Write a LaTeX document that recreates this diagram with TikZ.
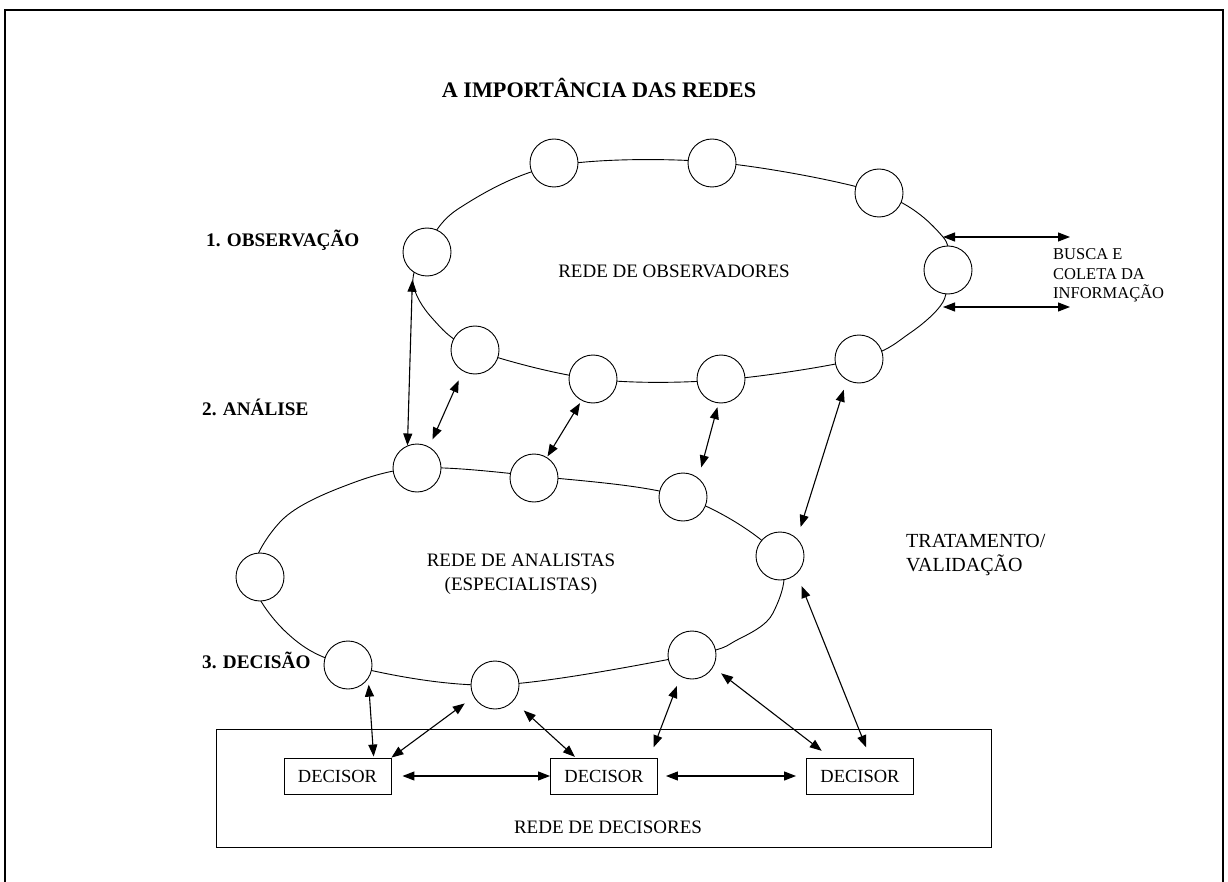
\documentclass[tikz,border=0pt]{standalone}
\usepackage{fontspec}
\setmainfont{Liberation Serif}
\usetikzlibrary{arrows.meta}
\begin{document}
\begin{tikzpicture}[x=1pt,y=-1pt,
  ring/.style={line width=0.9pt},
  nd/.style={circle,draw,fill=white,line width=0.9pt,minimum size=48pt,inner sep=0pt},
  dec/.style={draw,line width=0.9pt,minimum width=107pt,minimum height=36pt,inner sep=0pt,font=\fontsize{18.5}{22}\selectfont},
  lbl/.style={font=\fontsize{19}{24}\selectfont,inner sep=0pt,anchor=base},
  lblw/.style={font=\fontsize{20}{24}\selectfont,inner sep=0pt,anchor=base west},
  small/.style={font=\fontsize{16.5}{19}\selectfont,inner sep=0pt,anchor=base west},
  stage/.style={font=\fontsize{19.2}{22}\selectfont\bfseries,inner sep=0pt,anchor=base west},
  arr/.style={line width=1.1pt,{Triangle[length=12pt,width=9pt]}-{Triangle[length=12pt,width=9pt]}},
]
\useasboundingbox (0,0) rectangle (1228,882);
% outer frame
\draw[line width=1.5pt] (5,882) -- (5,10) -- (1223,10) -- (1223,882);

% title
\node[font=\fontsize{22.2}{26}\selectfont\bfseries,inner sep=0pt,anchor=base] (title) at (599,98) {A IMPORTÂNCIA DAS REDES};

% rings
\draw[ring] plot[smooth cycle,tension=0.55] coordinates {
  (425,250) (458,209) (554,166) (712,162) (879,193) (943,237) (946,270) (943,302)
  (910,333) (859,359) (721,380) (593,379) (475,350) (432,318) (413,283)};
\draw[ring] plot[smooth cycle,tension=0.55] coordinates {
  (417,468) (534,476) (683,497) (778,556) (773,613) (737,640) (692,655)
  (495,685) (348,665) (287,633) (252,577) (282,520) (342,487)};

% observer circles
\node[nd] (o1) at (427,252) {};
\node[nd] (o2) at (554,163) {};
\node[nd] (o3) at (712,163) {};
\node[nd] (o4) at (879,193) {};
\node[nd] (o5) at (948,270) {};
\node[nd] (o6) at (859,359) {};
\node[nd] (o7) at (721,379) {};
\node[nd] (o8) at (593,379) {};
\node[nd] (o9) at (475,350) {};

% analyst circles
\node[nd] (a1) at (417,468) {};
\node[nd] (a2) at (534,478) {};
\node[nd] (a3) at (683,497) {};
\node[nd] (a4) at (780,556) {};
\node[nd] (a5) at (692,655) {};
\node[nd] (a6) at (495,685) {};
\node[nd] (a7) at (348,665) {};
\node[nd] (a8) at (260,577) {};

% decision network
\node[draw,line width=0.9pt,minimum width=775pt,minimum height=118pt,inner sep=0pt] (net) at (603.5,788) {};
\node[dec] (D1) at (337.5,776) {DECISOR};
\node[dec] (D2) at (604,776) {DECISOR};
\node[dec] (D3) at (860,776) {DECISOR};
\node[lbl] (netlbl) at (608,833) {REDE DE DECISORES};

% labels
\node[lbl] (obs) at (674,278) {REDE DE OBSERVADORES};
\node[lbl] (ana1) at (521,566) {REDE DE ANALISTAS};
\node[lbl] (ana2) at (521,590) {(ESPECIALISTAS)};
\node[stage] (s1) at (206,247) {1. OBSERVAÇÃO};
\node[stage] (s2) at (202,415) {2. ANÁLISE};
\node[stage] (s3) at (202,668) {3. DECISÃO};
\node[small] (bu1) at (1053,260) {BUSCA E};
\node[small] (bu2) at (1053,280) {COLETA DA};
\node[small] (bu3) at (1053,299) {INFORMAÇÃO};
\node[lblw] (tr1) at (906,547) {TRATAMENTO/};
\node[lblw] (tr2) at (906,571) {VALIDAÇÃO};

% arrows between rings
\draw[arr,shorten <=8pt] (o1.234) -- (a1.113);
\draw[arr,shorten <=10pt,shorten >=8pt] (o9.240) -- (a1.60);
\draw[arr,shorten <=3pt,shorten >=1pt] (o8.242) -- (a2.58);
\draw[arr,shorten <=4pt,shorten >=11pt] (o7.264) -- (a3.51);
\draw[arr,shorten <=10pt,shorten >=12pt] (o6.240) -- (a4.46);

% arrows to decisors
\draw[arr,shorten <=13pt,shorten >=11pt] (a4.313) -- (D3.61);
\draw[arr,shorten <=10pt,shorten >=11pt] (a5.330) -- (D3.148);
\draw[arr,shorten <=10pt,shorten >=11pt] (a5.242) -- (D2.22);
\draw[arr,shorten <=14pt,shorten >=1pt] (a6.319) -- (D2.147);
\draw[arr,shorten <=11pt] (a6.209) -- (D1.north east);
\draw[arr,shorten <=6pt,shorten >=1pt] (a7.326) -- (D1.27);
\draw[arr,shorten <=11pt] (D1.east) -- (D2.west);
\draw[arr,shorten <=8pt,shorten >=10pt] (D2.east) -- (D3.west);

% information gathering arrows
\coordinate (b1L) at (943,237);
\coordinate (b1R) at (1070,237);
\coordinate (b2L) at (943,307);
\coordinate (b2R) at (1070,307);
\draw[arr] (b1L) -- (b1R);
\draw[arr] (b2L) -- (b2R);
\end{tikzpicture}
\end{document}
